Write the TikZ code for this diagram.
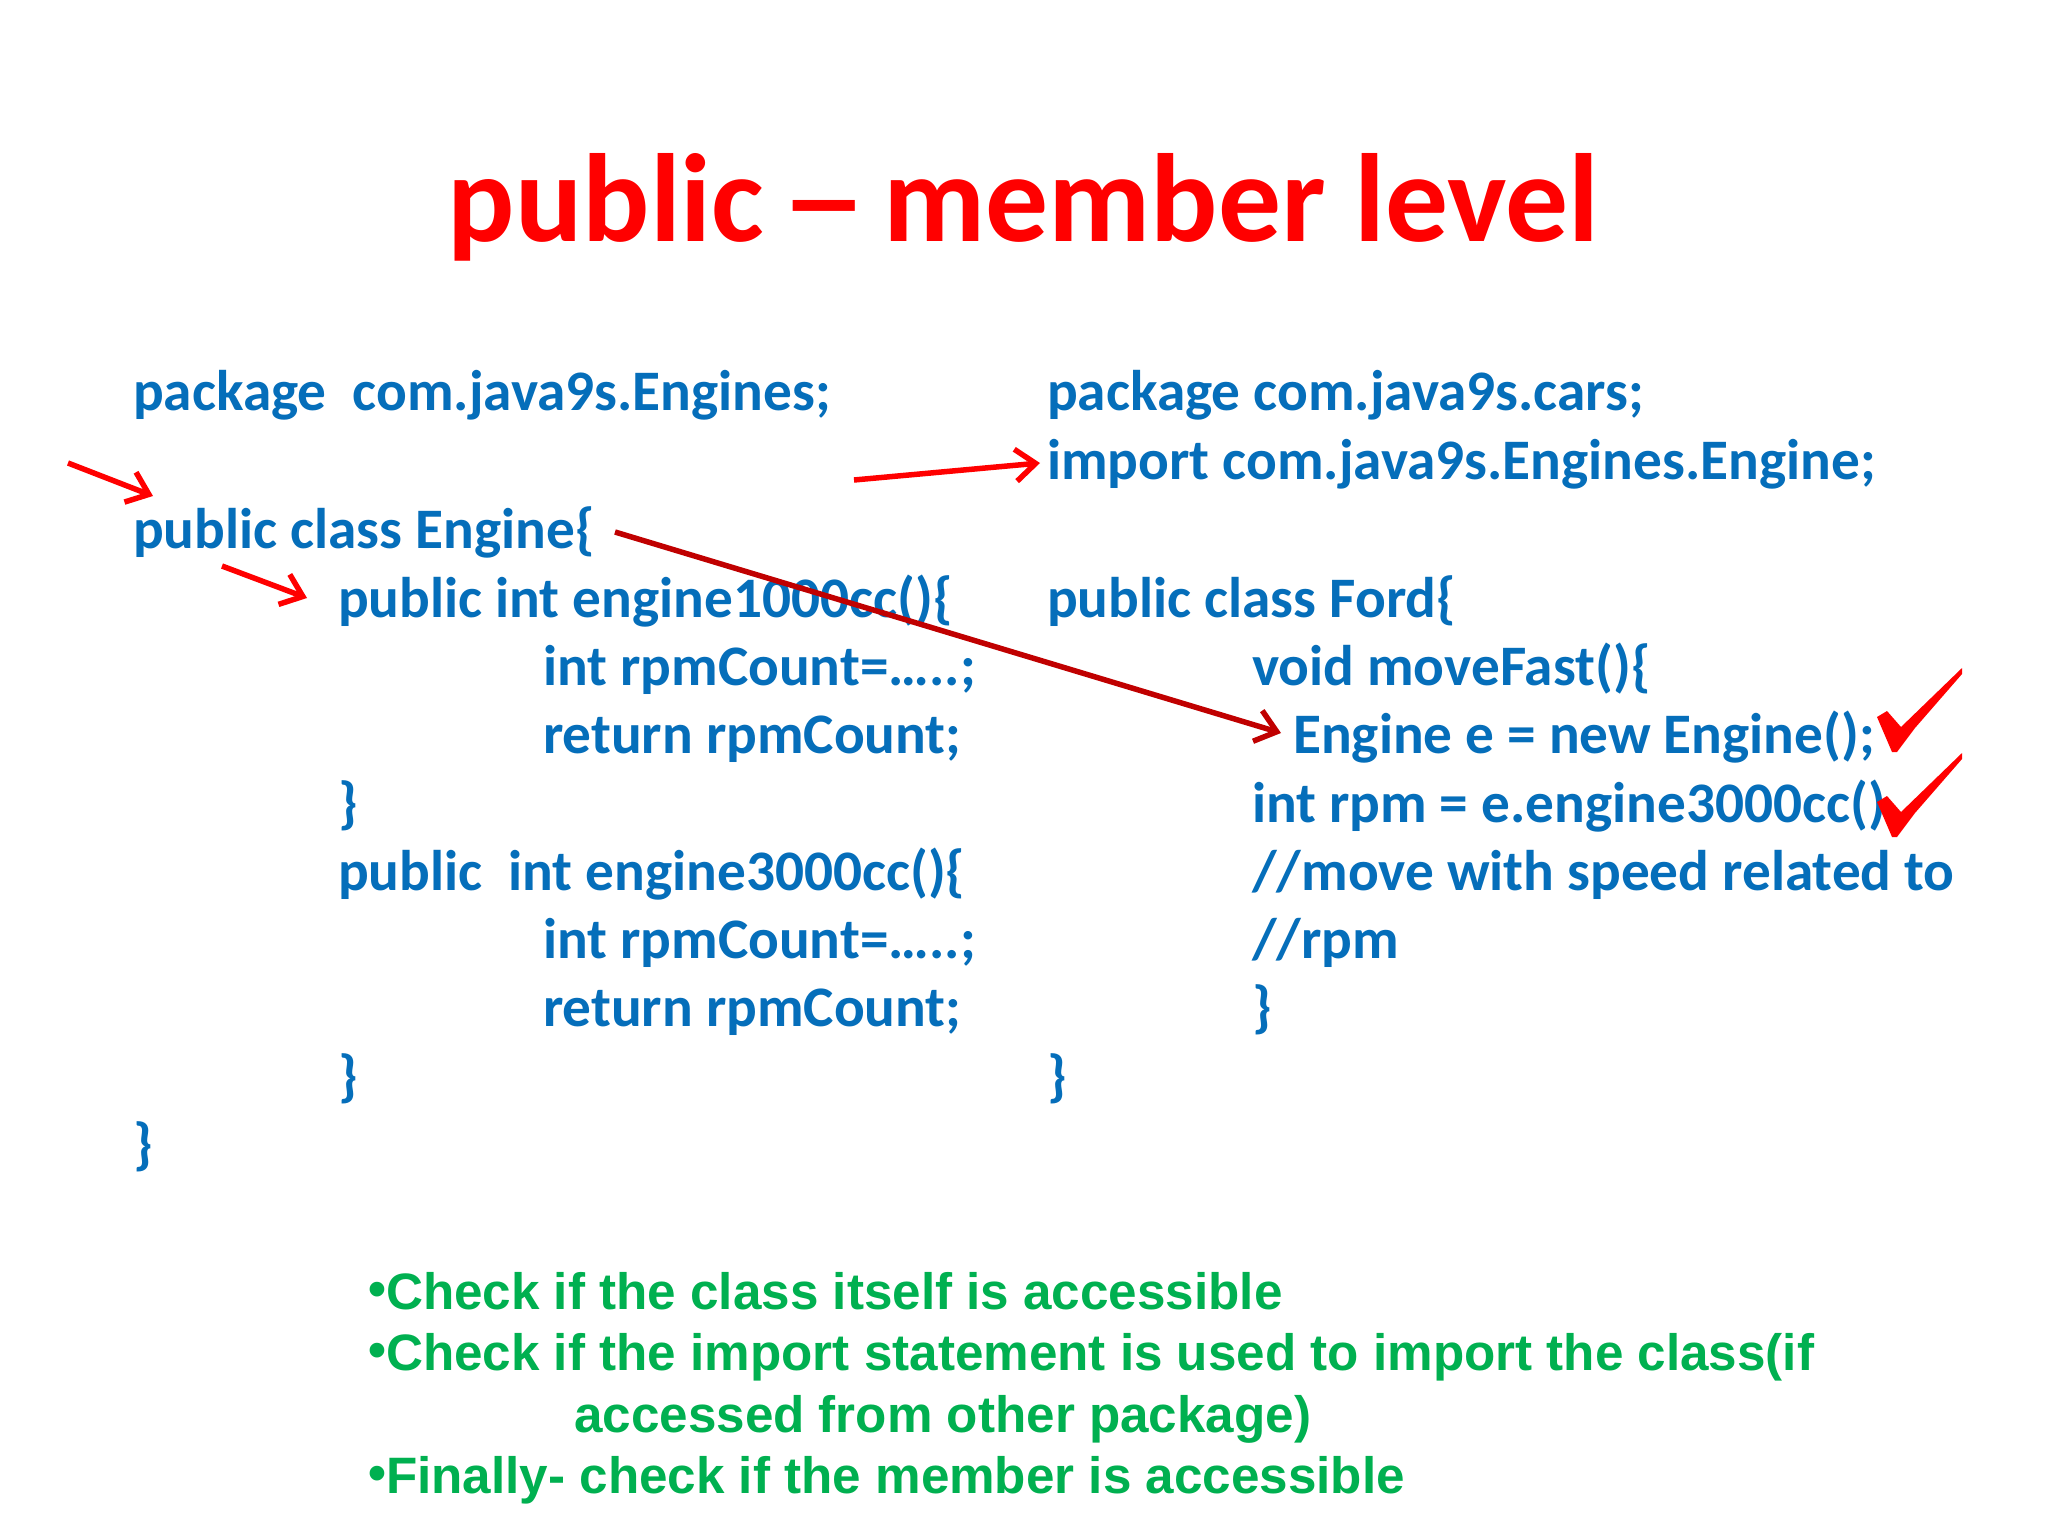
\documentclass[tikz,border=0pt]{standalone}
\usepackage{fontspec}
\setmainfont{Carlito}
\newfontfamily\helv{Liberation Sans}
\usetikzlibrary{positioning}
\usetikzlibrary{calc}
\usetikzlibrary{arrows.meta}
\definecolor{codeblue}{RGB}{5,110,186}
\definecolor{notegreen}{RGB}{0,176,80}
\definecolor{darkred}{RGB}{192,0,0}
\newcommand{\notebullet}{\raisebox{3pt}{•}}
\tikzset{
    code/.style={anchor=base west, inner sep=0pt, text=codeblue, font=\bfseries\fontsize{57.3}{57.3}\selectfont},
    note/.style={anchor=base west, inner sep=0pt, text=notegreen, font=\helv\bfseries\fontsize{51.2}{51.2}\selectfont},
    redarrow/.style={draw=red, line width=5.5pt, -{Straight Barb[length=20pt,width=32pt,line width=5.5pt]}},
    tick/.style={fill=red}
}
\begin{document}
\begin{tikzpicture}[x=1pt,y=-1pt]

    \useasboundingbox (0,0) rectangle (2048,1536);
    \fill[white] (0,0) rectangle (2048,1536);

    \node[anchor=base, inner sep=0pt, text=red, font=\bfseries\fontsize{125.5}{125.5}\selectfont] (title) at (1024,241) {public\hspace{16pt}\scalebox{1.4}[1]{--}\hspace{16pt}member level};

    % left column
    \node[code] (p1) at (133,410) {package\ \ com.java9s.Engines;};
    \node[code] (c1) at (133,548) {public class Engine\{};
    \node[code] (m1) at (338,617) {public int engine1000cc()\{};
    \node[code] (r1) at (543,685) {int rpmCount=…..;};
    \node[code] (r2) at (543,753) {return rpmCount;};
    \node[code] (b1) at (338,822) {\}};
    \node[code] (m2) at (338,890) {public\ \ int engine3000cc()\{};
    \node[code] (r3) at (543,958) {int rpmCount=…..;};
    \node[code] (r4) at (543,1026) {return rpmCount;};
    \node[code] (b2) at (338,1095) {\}};
    \node[code] (b3) at (133,1163) {\}};

    % right column
    \node[code] (p2) at (1047,410) {package com.java9s.cars;};
    \node[code] (i2) at (1047,479) {import com.java9s.Engines.Engine;};
    \node[code] (c2) at (1047,617) {public class Ford\{};
    \node[code] (f2) at (1252,685) {void moveFast()\{};
    \node[code] (e2) at (1293,753) {Engine e = new Engine();};
    \node[code] (n2) at (1252,822) {int rpm = e.engine3000cc()};
    \node[code] (s2) at (1252,890) {//move with speed related to};
    \node[code] (s3) at (1252,958) {//rpm};
    \node[code] (b4) at (1252,1026) {\}};
    \node[code] (b5) at (1047,1095) {\}};

    % notes
    \node[note] (n1) at (368,1309) {\notebullet Check if the class itself is accessible};
    \node[note] (n3) at (368,1370) {\notebullet Check if the import statement is used to import the class(if};
    \node[note] (n4) at (574,1432) {accessed from other package)};
    \node[note] (n5) at (368,1493) {\notebullet Finally- check if the member is accessible};

    % arrows
    \coordinate (a1s) at (68,463);
    \coordinate (a1e) at (153,496);
    \coordinate (a2s) at (222,566);
    \coordinate (a2e) at (307,598);
    \coordinate (a3s) at (854,480);
    \coordinate (a3e) at (1040,463);
    \coordinate (a4s) at (615,532);
    \coordinate (a4e) at (1281,733);
    \draw[redarrow] (a1s) -- (a1e);
    \draw[redarrow] (a2s) -- (a2e);
    \draw[redarrow] (a3s) -- (a3e);
    \draw[redarrow, draw=darkred] (a4s) -- (a4e);

    % ticks
    \path[tick] (1877,717) -- (1887,711) -- (1901,727) -- (1962,668) -- (1962,674) -- (1915,728) -- (1897,752) -- (1892,752) -- cycle;
    \path[tick] (1877,802) -- (1887,796) -- (1901,812) -- (1962,753) -- (1962,759) -- (1915,813) -- (1897,837) -- (1892,837) -- cycle;

\end{tikzpicture}
\end{document}
